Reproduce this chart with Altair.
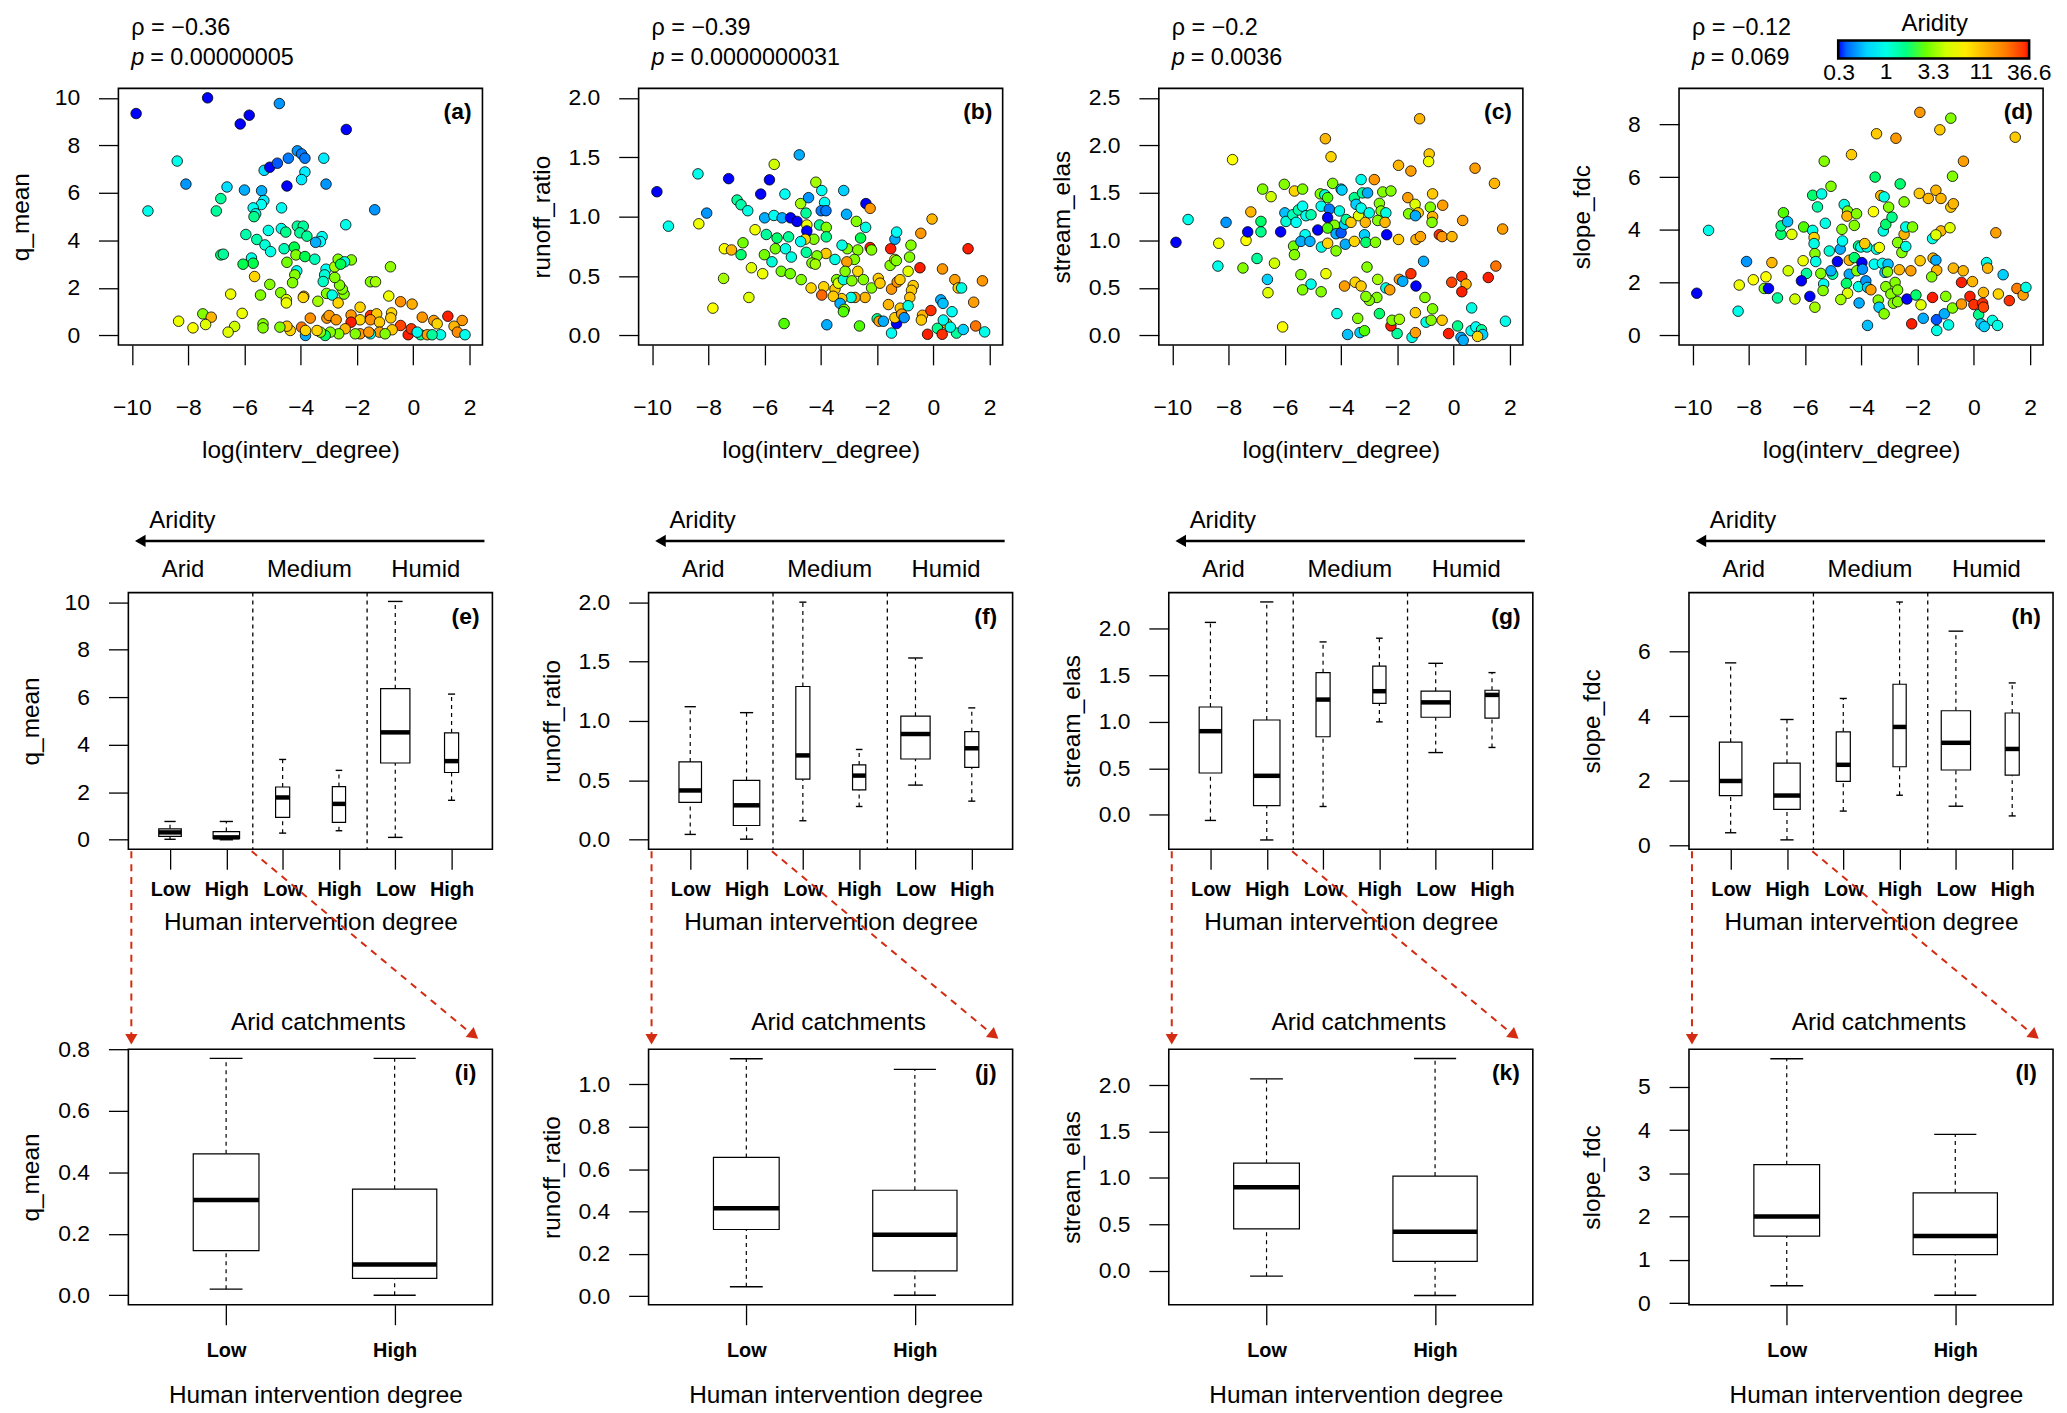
import altair as alt
import pandas as pd
import numpy as np

FONT = "Liberation Sans"
RED = "#D42C12"

# ---------------- top row scatter data (x = log(interv_degree), aridity colour) ----------------
a_x = [-9.85,-7.31,-6.15,-5.83,-4.76,-2.38,-8.39,-8.08,-9.43,-6.62,
-6.84,-7.0,-6.0,-5.30,-5.1,-4.83,-4.44,-4.12,-3.97,-3.85,
-3.18,-3.85,-3.97,-3.10,-4.49,-5.39,-5.31,-5.4,-5.69,-5.6,
-5.66,-4.68,-1.37,-2.40,-4.69,-4.53,-5.15,-5.95,-5.56,-5.27,
-5.07,-4.59,-4.12,-3.91,-4.03,-3.78,-3.24,-3.3,-3.47,-4.23,
-4.17,-3.85,-3.5,-4.49,-6.84,-6.75,-5.75,-5.69,-6.05,-4.14,
-3.10,-3.15,-3.2,-4.21,-4.29,-5.1,-5.64,-6.49,-5.43,-4.71,
-4.51,-4.51,-3.89,-3.91,-3.39,-3.08,-2.88,-2.67,-2.46,-2.52,
-2.62,-2.79,-2.79,-2.67,-2.2,-2.44,-2.58,-0.81,-1.52,-1.34,
-0.87,-0.45,-0.04,-1.89,-2.21,-1.89,-2.21,-1.52,-1.3,-1.52,
-1.2,-0.77,-0.8,0.32,0.73,0.85,1.23,1.74,1.45,1.57,
1.84,-0.18,-0.07,-0.45,-0.75,-1.2,-1.52,-1.89,-2.42,-2.65,
-2.95,-3.13,-3.3,-3.42,-3.66,-3.07,-2.99,-2.74,-3.97,-3.83,
-3.83,-4.37,-4.49,-4.74,-5.34,-5.34,-6.08,-6.35,-6.58,-7.48,
-7.18,-7.38,-7.83,-8.34,-2.06,-1.0,0.26,0.5,0.97,0.67,
0.14,-1.58]
a_y = [9.34,10.0,8.9,9.27,9.76,8.67,7.34,6.37,5.24,6.25,
5.76,5.24,6.12,6.95,7.08,7.25,7.46,7.77,7.64,7.46,
7.46,6.88,6.56,6.37,6.29,6.09,5.68,5.51,5.37,5.12,
5.0,5.37,5.29,4.66,4.5,4.35,4.42,4.25,4.04,3.81,
3.53,3.65,4.6,4.6,4.32,4.18,4.16,3.95,3.92,3.72,
3.39,3.32,3.21,3.08,3.39,3.42,3.26,3.04,3.0,2.72,
2.79,2.55,2.27,2.55,2.22,2.15,2.48,1.74,1.70,1.80,
1.51,1.37,1.65,1.6,1.44,1.77,1.7,1.37,1.74,1.95,
2.12,2.44,2.89,3.21,3.18,3.10,3.0,2.89,2.26,2.26,
1.66,1.42,1.32,1.19,0.86,0.66,0.56,0.84,0.91,0.66,
0.56,0.95,0.74,0.77,0.63,0.49,0.81,0.63,0.39,0.14,
0.03,0.03,0.28,0.42,0.24,0.14,0.07,0.07,0.28,0.07,
0.14,0.0,0.14,0.21,0.73,0.73,0.84,0.66,0.35,0.0,
0.21,0.21,0.39,0.35,0.49,0.32,0.93,0.38,0.14,0.91,
0.77,0.46,0.32,0.6,0.07,0.07,0.03,0.03,0.03,0.03,
0.14,0.14]
a_ar = [0.3,0.3,0.3,0.3,0.45,0.3,0.95,0.45,0.95,0.65,
1.5,1.5,0.5,0.65,0.3,0.35,0.4,0.45,0.4,0.4,
0.7,0.7,0.7,0.45,0.3,0.5,0.7,0.9,0.9,1.0,
1.6,0.9,0.45,0.95,0.95,1.6,1.0,1.4,1.4,1.1,
1.0,1.3,1.5,1.5,1.5,1.5,0.9,0.8,0.5,2.0,
3.0,2.0,1.3,2.8,1.8,1.5,1.0,2.0,2.0,0.9,
0.85,1.1,1.2,3.0,3.0,3.0,9,5.5,3.0,3.0,
5,5.5,12,9,3.5,3,1,9,3,3,
3,3,3.5,3,3,1.0,2,3.2,3,3.5,
5.5,17,13,9,16,9,35,33,10,17,
10,9,10,16,15,9,35,16,12,18,
0.95,35,32,30,10,15,0.9,16,12,3,
3,1.8,3,9,17,16,15,16,22,0.5,
9,9,10,3,3,3,5.5,4.5,5,3,
12,5,6,5.5,3,3,1.6,15,1.0,1.5,
0.9,16]

b_x = [-9.83,-9.42,-8.37,-8.06,-8.34,-7.28,-5.83,-6.14,-5.66,-5.28,
-4.77,-6.98,-6.84,-6.6,-6.0,-5.67,-5.38,-5.08,-4.85,-4.72,
-4.53,-4.44,-4.18,-3.97,-3.87,-3.99,-3.82,-4.5,-4.5,-4.05,
-3.81,-3.81,-4.25,-4.56,-4.72,-3.19,-3.09,-2.74,-2.41,-2.4,
-2.25,-2.59,-2.25,-2.2,-2.69,-2.81,-3.06,-3.25,-3.08,-3.5,
-3.82,-4.14,-4.52,-4.32,-4.2,-6.34,-5.94,-5.56,-5.15,-5.62,
-5.26,-5.05,-6.01,-5.74,-6.84,-6.77,-7.43,-7.18,-6.47,-6.07,
-5.41,-5.09,-4.7,-4.35,-3.9,-3.97,-3.5,-3.44,-3.38,-3.2,
-3.14,-2.9,-2.69,-2.49,-2.2,-2.43,-2.79,-2.93,-3.26,-3.56,
-3.32,-3.17,-3.2,-3.79,-5.31,-6.56,-7.84,-7.46,-2.63,-2.0,
-1.93,-1.78,-1.49,-1.31,-1.37,-1.18,-1.13,-1.04,-1.6,-1.49,
-1.29,-1.19,-1.96,-1.9,-1.54,-1.52,-1.37,-1.32,-1.37,-1.31,
-0.8,-0.85,-0.9,-0.72,-0.78,-0.84,-0.9,-0.48,-0.45,-0.05,
-0.39,-0.43,-0.09,-0.21,0.14,0.31,0.26,0.34,0.32,0.47,
0.35,0.66,0.76,0.88,1.0,0.82,1.06,1.23,1.43,1.5,
1.74,1.82,0.6]
b_y = [1.21,0.92,1.36,1.03,0.94,1.32,1.31,1.19,1.44,1.19,
1.52,1.14,1.10,1.05,0.99,1.01,0.99,0.99,0.96,1.11,
1.03,1.16,1.29,1.22,1.12,1.05,1.05,0.93,0.88,0.93,
0.91,0.83,0.81,0.81,0.79,1.22,1.02,0.96,0.91,1.11,
1.07,0.82,0.74,0.72,0.72,0.64,0.73,0.76,0.62,0.64,
0.69,0.67,0.70,0.61,0.60,0.89,0.85,0.82,0.83,0.73,
0.73,0.66,0.68,0.62,0.68,0.78,0.73,0.72,0.57,0.52,
0.54,0.52,0.47,0.40,0.41,0.34,0.39,0.47,0.44,0.47,
0.54,0.46,0.54,0.47,0.40,0.32,0.32,0.32,0.31,0.33,
0.27,0.22,0.20,0.09,0.10,0.32,0.23,0.48,0.08,0.14,
0.12,0.12,0.02,0.10,0.15,0.23,0.18,0.15,0.26,0.39,
0.45,0.47,0.48,0.44,0.59,0.73,0.64,0.63,0.81,0.87,
0.76,0.66,0.54,0.42,0.38,0.32,0.25,0.57,0.86,0.98,
0.17,0.13,0.21,0.01,0.06,0.01,0.30,0.27,0.56,0.10,
0.13,0.20,0.47,0.40,0.40,0.02,0.05,0.73,0.28,0.08,
0.46,0.03,0.07]
b_ar = [0.3,0.95,0.95,0.45,5.5,0.3,0.3,0.3,4.5,0.9,
0.5,1.5,1.4,1.0,0.5,0.9,0.5,0.3,0.3,3.5,
1.5,0.45,3.5,0.9,0.9,0.4,0.4,5.5,0.3,1.5,
3,1.6,3,9,0.9,0.6,0.5,3,1.0,0.3,
16,2.0,35,3,3,3,3,1.0,15,1.0,
10,3,1.5,3,3.5,5.5,1.5,1.8,1.5,2.8,
1.0,1.0,2.8,1.1,1.8,2.8,6,12,5,5.5,
2.8,2.8,3,9,9,24,10,3,5,1.1,
3,3,9,3,3,12,15,1.0,10,10,
0.5,3,2.5,0.5,2.5,5,6,3.5,2.5,1.6,
15,0.5,0.9,0.3,10,10,15,0.45,12,16,
17,10,10,10,3,35,5,3,0.5,0.9,
3,3,5,10,10,11,1.0,35,16,12,
12,10,33,35,1.6,33,0.5,0.55,16,12,
0.9,0.9,15,9,1.0,1.5,0.6,35,15,22,
16,0.95,0.95]

c_x = [-9.87,-9.44,-7.86,-8.09,-8.35,-8.38,-7.49,-7.38,-7.21,-7.32,
-6.99,-6.85,-6.85,-6.79,-6.49,-6.37,-6.62,-6.6,-6.08,-6.15,
-6.02,-6.0,-5.96,-5.66,-5.72,-5.6,-5.69,-5.66,-5.37,-5.52,
-5.37,-5.25,-5.07,-5.28,-5.43,-5.11,-4.83,-4.7,-4.56,-4.36,
-4.74,-4.58,-4.48,-4.71,-4.42,-4.48,-4.3,-4.0,-3.97,-4.06,
-4.24,-4.48,-4.18,-4.0,-3.88,-3.82,-3.85,-4.18,-4.48,-3.65,
-3.53,-3.47,-3.29,-3.24,-3.06,-3.38,-3.29,-3.14,-3.0,-3.17,
-3.12,-3.53,-2.82,-2.78,-2.64,-2.58,-2.7,-2.52,-2.23,-2.41,
-2.44,-2.38,-1.96,-1.52,-1.21,-0.87,-0.89,-1.63,-1.37,-1.6,
-1.26,-1.36,-0.83,-0.75,-0.75,-0.77,-0.39,-1.96,-1.34,-1.18,
-0.51,-0.41,-0.06,0.32,0.76,1.45,1.74,1.5,1.23,0.64,
1.84,0.29,-0.07,0.44,0.29,-1.07,-1.52,-1.93,-1.81,-1.34,
-1.02,-0.75,-1.36,-0.98,-0.8,-0.41,0.14,-0.18,0.26,0.34,
0.62,0.79,0.99,1.03,0.85,-1.48,-1.36,-2.01,-2.23,-2.19,
-1.93,-2.64,-2.73,-2.7,-3.0,-3.12,-3.08,-2.41,-2.27,-3.5,
-3.29,-3.88,-4.15,-3.41,-3.77,-3.33,-3.17,-4.54,-5.07,-4.71,
-5.37,-5.43]
c_y = [0.98,1.22,1.85,1.19,0.97,0.73,0.71,1.0,1.30,1.09,
0.81,1.09,1.2,1.54,1.46,0.76,0.59,0.45,0.09,1.09,
1.59,1.29,1.20,1.52,1.27,1.19,0.94,0.85,1.54,1.32,
1.36,1.26,1.27,1.06,0.99,0.99,1.11,0.93,2.07,1.88,
1.49,1.48,1.45,1.36,1.33,1.24,1.60,1.54,1.53,1.31,
1.16,1.13,1.07,1.08,1.17,1.22,0.96,0.89,0.97,1.19,
1.45,1.38,1.64,1.50,1.50,1.26,1.34,1.19,1.29,1.06,
0.98,0.99,1.64,0.98,1.39,1.31,1.21,1.51,1.52,1.29,
1.19,1.06,1.79,1.73,2.28,1.91,1.83,1.45,1.38,1.28,
1.29,1.26,1.35,1.49,1.25,1.19,1.37,1.01,1.01,1.04,
1.06,1.04,1.04,1.21,1.76,1.60,1.12,0.73,0.61,0.29,
0.15,0.62,0.56,0.54,0.46,0.78,0.65,0.59,0.57,0.52,
0.40,0.28,0.24,0.14,0.16,0.16,0.10,0.02,-0.02,-0.05,
0.05,0.09,0.06,0.01,-0.01,-0.02,0.03,0.02,0.10,0.16,
0.17,0.23,0.40,0.59,0.37,0.41,0.72,0.50,0.48,0.56,
0.52,0.52,0.23,0.18,0.01,0.03,0.05,0.65,0.54,0.46,
0.48,0.64]
c_ar = [0.3,0.95,6,0.45,5.5,0.95,3,6,12,0.3,
1.5,1.6,1.8,3,4.5,4.5,0.6,5,6,0.3,
3,0.55,1.1,9,1.3,0.9,2.8,3,3,1.4,
0.9,0.9,1.4,0.9,0.5,0.5,0.3,0.95,12,9,
3,1.1,2.5,0.9,0.4,0.3,3,0.9,0.6,1.0,
3,2.5,0.5,0.35,0.6,1.5,0.5,3,9,10,
1.6,0.6,0.95,1.5,0.5,5,0.95,12,1.0,0.6,
1.8,9,16,3,3,3,3,3,3,1.0,
12,0.3,12,15,12,10,5.5,15,5,3,
10,0.5,3,10,12,3,15,10,12,14,
33,16,12,15,15,12,15,22,35,1.0,
0.95,33,30,12,35,0.5,33,16,0.5,0.3,
3,3,10,1.0,3,10,1.6,35,0.5,0.5,
0.9,0.9,1.5,0.6,9,0.95,15,1.5,35,3,
3.5,1.8,3,3.5,3,3,3,1.0,15,9,
10,15,1.0,3,0.55,0.6,2.5,5.5,0.95,3,
3,3]

d_x = [-9.85,-9.43,-8.38,-8.34,-8.08,-7.84,-7.39,-7.45,-7.3,-7.18,
-6.98,-6.86,-6.85,-6.77,-6.62,-6.47,-6.6,-6.36,-6.05,-6.07,
-5.95,-6.13,-5.83,-5.65,-5.73,-5.73,-5.56,-5.41,-5.68,-5.68,
-5.65,-5.62,-5.44,-5.34,-5.36,-5.32,-5.08,-5.28,-5.14,-5.02,
-5.08,-4.85,-4.75,-4.67,-4.69,-4.61,-4.49,-4.51,-4.17,-4.25,
-4.35,-4.43,-4.25,-4.43,-4.53,-4.49,-4.73,-4.1,-4.02,-4.16,
-4.1,-4.08,-3.98,-3.96,-3.84,-3.78,-3.66,-3.8,-3.88,-3.78,
-3.51,-3.46,-3.57,-3.46,-3.36,-3.31,-3.19,-3.22,-3.13,-3.03,
-2.91,-3.54,-3.25,-3.05,-3.16,-3.07,-3.4,-3.37,-3.19,-3.13,
-2.95,-2.86,-2.8,-2.71,-2.71,-2.77,-2.62,-2.48,-2.48,-2.42,
-2.18,-2.71,-2.56,-2.42,-2.65,-2.24,-2.38,-2.06,-1.88,-2.21,
-1.8,-1.92,-1.94,-1.62,-1.35,-1.17,-1.21,-0.82,-0.76,-0.82,
-0.73,-1.17,-0.85,-1.47,-1.35,-1.91,-1.45,-1.35,-1.32,-1.5,
-1.47,-1.0,-1.33,-1.05,-0.9,-1.32,-0.76,-0.73,-0.37,-0.38,
-0.44,-0.44,-0.05,-0.14,0.0,0.17,0.31,0.34,0.34,0.25,
0.37,0.45,0.49,0.66,0.84,0.78,0.87,1.04,1.26,1.47,
1.53,1.75,1.85]
d_y = [1.60,3.98,0.92,1.91,2.80,2.11,2.22,1.78,1.78,2.76,
1.42,3.83,4.15,4.65,4.31,3.83,2.45,1.38,4.11,2.83,
2.35,2.07,1.48,1.07,5.31,3.98,4.87,5.36,3.71,3.48,
3.10,2.80,2.35,1.95,1.70,6.60,5.65,4.25,3.20,2.32,
2.45,2.80,3.27,3.58,4.02,4.96,4.71,4.52,4.61,4.17,
6.85,2.85,2.95,2.32,1.97,1.60,1.36,3.39,3.35,2.45,
1.85,1.23,2.76,2.51,2.07,1.82,1.73,3.35,3.48,0.38,
6.0,7.64,4.69,3.27,3.33,5.30,5.25,3.96,4.21,4.86,
4.48,2.70,2.73,2.70,2.39,2.41,1.34,1.07,0.82,1.85,
1.57,1.22,2.01,1.72,1.28,7.47,5.74,5.06,3.83,4.11,
4.11,3.52,3.14,3.37,2.49,2.45,1.38,1.53,1.16,0.44,
0.65,8.45,5.38,5.19,5.50,5.19,7.79,8.23,6.03,4.86,
4.99,3.96,4.08,3.67,3.81,2.83,2.93,2.85,2.47,2.22,
1.44,1.48,0.60,0.82,0.40,0.19,1.04,2.55,6.60,2.45,
2.01,1.19,2.04,1.48,1.17,0.79,1.22,1.07,1.63,0.44,
0.34,2.76,2.55,0.57,0.38,3.89,1.57,2.30,1.32,7.51,
1.78,1.53,1.82]
d_ar = [0.3,0.95,0.95,5.5,0.45,6,6,3,0.3,12,
1.5,1.8,1.6,2.5,0.55,5,4.5,4.5,2.5,5.5,
1.5,0.3,0.3,3.5,1.8,1.0,1.4,1.0,9,1.0,
3,1.0,3,0.9,3,3,3,1.0,1.1,1.4,
0.5,0.3,0.5,0.9,3,1.0,3,12,3,3,
10,12,1.8,0.5,1.8,5,3.5,1.5,1.0,3,
1.0,0.5,0.3,0.45,0.45,0.6,15,1.0,10,0.55,
1.8,10,6,1.0,5.5,12,1.0,1.0,1.8,3,
1.6,0.9,0.9,0.55,0.6,3,3,0.6,3,3,
3,3,3,3,3,16,1.8,3,12,1.0,
3,3,3,1.0,12,15,0.3,1.8,5,35,
0.5,16,10,12,12,12,10,3,3,10,
12,12,5,1.0,5,10,12,0.5,12,3,
35,3,0.35,0.5,1.0,1.0,3,12,15,12,
35,16,12,35,33,1.6,33,30,12,0.6,
0.6,1.0,12,1.0,1.0,15,9,0.6,33,10,
20,15,1.0]

# ---------------- correlation texts ----------------
rho_txt = ["−0.36", "−0.39", "−0.2", "−0.12"]
p_txt = ["0.00000005", "0.0000000031", "0.0036", "0.069"]
metric_names = ["q_mean", "runoff_ratio", "stream_elas", "slope_fdc"]

# ---------------- aridity colour bar ----------------
ar_ticks = [0.3, 1, 3.3, 11, 36.6]
ar_colors = ["#0000FF", "#00FFFF", "#00FF00", "#FFFF00", "#FFA500", "#FF0000"]
ar_stop_frac = [0.0, 0.2, 0.42, 0.63, 0.8, 1.0]

# ---------------- middle row boxplot statistics (Arid L/H, Medium L/H, Humid L/H) ----------------
grp_pos = [1, 2, 3, 4, 5, 6]
grp_width = [0.40, 0.47, 0.25, 0.235, 0.52, 0.25]
grp_seps = [2.47, 4.50]
box_stats = {
    "q_mean": dict(lo=[0.02, 0.0, 0.28, 0.38, 0.10, 1.66], q1=[0.145, 0.055, 0.94, 0.73, 3.23, 2.83],
                   med=[0.31, 0.10, 1.78, 1.51, 4.52, 3.31], q3=[0.46, 0.345, 2.22, 2.24, 6.36, 4.50],
                   hi=[0.77, 0.77, 3.38, 2.92, 10.03, 6.13]),
    "runoff_ratio": dict(lo=[0.045, 0.005, 0.16, 0.28, 0.46, 0.325], q1=[0.315, 0.12, 0.51, 0.42, 0.68, 0.61],
                         med=[0.415, 0.29, 0.71, 0.54, 0.89, 0.77], q3=[0.655, 0.50, 1.29, 0.63, 1.04, 0.91],
                         hi=[1.12, 1.07, 2.0, 0.76, 1.53, 1.11]),
    "stream_elas": dict(lo=[-0.06, -0.27, 0.09, 1.0, 0.67, 0.725], q1=[0.45, 0.10, 0.84, 1.20, 1.05, 1.04],
                        med=[0.90, 0.42, 1.24, 1.33, 1.21, 1.29], q3=[1.16, 1.02, 1.53, 1.60, 1.33, 1.34],
                        hi=[2.07, 2.29, 1.86, 1.90, 1.63, 1.53]),
    "slope_fdc": dict(lo=[0.40, 0.18, 1.07, 1.56, 1.22, 0.92], q1=[1.55, 1.12, 1.99, 2.44, 2.34, 2.18],
                      med=[2.0, 1.55, 2.5, 3.67, 3.18, 2.99], q3=[3.2, 2.55, 3.52, 4.99, 4.17, 4.10],
                      hi=[5.65, 3.9, 4.55, 7.53, 6.63, 5.03]),
}
arid_pos = [1, 2]
arid_width = [0.39, 0.50]

# ---------------- layout constants ----------------
W, H = 366, 258
HB = 257
TS = 23      # tick label size
TT = 24.5    # axis title size
ONE = pd.DataFrame({"k": [0]})

lo_ln, hi_ln = np.log(ar_ticks[0]), np.log(ar_ticks[-1])
col_domain = [float(lo_ln + f * (hi_ln - lo_ln)) for f in ar_stop_frac]
tick_ln = [float(np.log(v)) for v in ar_ticks]
lab_expr = ""
for i, v in enumerate(ar_ticks[:-1]):
    mid = (tick_ln[i] + tick_ln[i + 1]) / 2
    lab_expr += f"datum.value < {mid:.3f} ? '{v:g}' : "
lab_expr += f"'{ar_ticks[-1]:g}'"

LEG_X, LEG_LEN = 160, 192


def y_axis(vals, fmt, title, h):
    return alt.Axis(values=vals, format=fmt, title=title, titleX=-97, titleY=h / 2, titleAngle=270,
                    titleAlign="center", titleBaseline="middle", titleFontSize=TT,
                    labelPadding=19, labelBaseline="middle", labelFontSize=TS, tickSize=20)


def txt(text, x, y, align="left", size=23.5, weight="normal", style="normal", color="black"):
    return alt.Chart(ONE).mark_text(text=text, align=align, baseline="middle", fontSize=size,
                                    fontWeight=weight, fontStyle=style, color=color, font=FONT).encode(
        x=alt.value(x), y=alt.value(y))


def scatter_panel(x, y, ar, ydom, yvals, yfmt, idx, tag, legend):
    df = pd.DataFrame({"x": x, "y": y, "ar": ar})
    if legend:
        leg = alt.Legend(orient="none", legendX=LEG_X, legendY=-77, direction="horizontal",
                         gradientLength=LEG_LEN, gradientThickness=18, gradientStrokeColor="black",
                         gradientStrokeWidth=2.5, title="Aridity", titleAnchor="middle",
                         titleFontSize=24, titleFontWeight="normal", titleFont=FONT, titleColor="black",
                         titlePadding=5, values=tick_ln[1:-1], labelExpr=lab_expr, labelFontSize=23,
                         labelFont=FONT, labelColor="black", labelOverlap=False, labelAlign="center",
                         labelOffset=3)
    else:
        leg = None
    color = alt.Color("la:Q", scale=alt.Scale(domain=col_domain, range=ar_colors), legend=leg)
    pts = alt.Chart(df).transform_calculate(la="log(datum.ar)").mark_circle(
        size=112, opacity=1, stroke="black", strokeWidth=0.8).encode(
        x=alt.X("x:Q", scale=alt.Scale(domain=[-10.48, 2.46], nice=False, zero=False),
                axis=alt.Axis(values=list(range(-10, 3, 2)), format="d", title="log(interv_degree)",
                              titleX=W / 2, titleY=106, titleAlign="center", titleBaseline="middle",
                              titleFontSize=TT, labelPadding=43, labelBaseline="middle",
                              labelFontSize=TS, tickSize=20)),
        y=alt.Y("y:Q", scale=alt.Scale(domain=ydom, nice=False, zero=False),
                axis=y_axis(yvals, yfmt, metric_names[idx], H)),
        color=color)
    layers = [pts,
              txt("ρ = " + rho_txt[idx], 13, -61),
              txt("p", 13, -30, style="italic"),
              txt("= " + p_txt[idx], 32, -30),
              txt(tag, W - 25, 24, align="center", size=23, weight="bold")]
    if legend:
        layers += [txt(f"{ar_ticks[0]:g}", LEG_X + 1, -15, align="center", size=23),
                   txt(f"{ar_ticks[-1]:g}", LEG_X + LEG_LEN, -15, align="center", size=23)]
    return alt.layer(*layers).properties(width=W, height=H)


def box_layers(st, pos, bw, xdom, xaxis, ydom, yaxis_):
    df = pd.DataFrame(dict(pos=pos, bw=bw, **st))
    base = alt.Chart(df).transform_calculate(
        x1="datum.pos - datum.bw/2", x2="datum.pos + datum.bw/2",
        c1="datum.pos - datum.bw/4", c2="datum.pos + datum.bw/4")
    xs = alt.Scale(domain=xdom, nice=False, zero=False)
    ys = alt.Scale(domain=ydom, nice=False, zero=False)

    def X(f):
        return alt.X(f, type="quantitative", scale=xs, axis=xaxis)

    def Y(f):
        return alt.Y(f, type="quantitative", scale=ys, axis=yaxis_)

    wl = base.mark_rule(strokeDash=[4, 4], strokeWidth=1.2, color="black").encode(x=X("pos"), y=Y("lo"), y2="q1")
    wh = base.mark_rule(strokeDash=[4, 4], strokeWidth=1.2, color="black").encode(x=X("pos"), y=Y("q3"), y2="hi")
    cl = base.mark_rule(strokeWidth=1.4, color="black").encode(x=X("c1"), x2="c2", y=Y("lo"))
    ch = base.mark_rule(strokeWidth=1.4, color="black").encode(x=X("c1"), x2="c2", y=Y("hi"))
    bx = base.mark_rect(fill="white", stroke="black", strokeWidth=1.2).encode(x=X("x1"), x2="x2", y=Y("q1"), y2="q3")
    md = base.mark_rule(strokeWidth=4.5, color="black").encode(x=X("x1"), x2="x2", y=Y("med"))
    return [wl, wh, cl, ch, bx, md], X


def mid_panel(name, ydom, yvals, yfmt, tag):
    xaxis = alt.Axis(values=grp_pos, labelExpr="datum.value % 2 == 1 ? 'Low' : 'High'",
                     labelFontWeight="bold", labelFontSize=20, labelPadding=20, labelBaseline="middle",
                     title="Human intervention degree", titleX=W / 2, titleY=74, titleAlign="center",
                     titleBaseline="middle", titleFontSize=TT, tickSize=20)
    layers, X = box_layers(box_stats[name], grp_pos, grp_width, [0.26, 6.725], xaxis, ydom,
                           y_axis(yvals, yfmt, name, H))
    seps = alt.Chart(pd.DataFrame({"s": grp_seps})).mark_rule(
        strokeDash=[4, 4], strokeWidth=1.3, color="black").encode(x=X("s"))
    one = alt.Chart(ONE)
    arrow = one.mark_rule(strokeWidth=2.6, color="black").encode(
        x=alt.value(14), x2=alt.value(358), y=alt.value(-52))
    head = one.mark_point(shape="triangle-left", filled=True, size=150, color="black", opacity=1).encode(
        x=alt.value(12), y=alt.value(-52))
    ann = [txt("Aridity", 21, -72, size=24),
           txt("Arid", 55, -23, align="center", size=24),
           txt("Medium", 182, -23, align="center", size=24),
           txt("Humid", 299, -23, align="center", size=24),
           txt(tag, W - 27, 25, align="center", size=23, weight="bold")]
    return alt.layer(seps, *layers, arrow, head, *ann).properties(width=W, height=H)


def bot_panel(name, ydom, yvals, yfmt, tag):
    xaxis = alt.Axis(values=arid_pos, labelExpr="datum.value == 1 ? 'Low' : 'High'",
                     labelFontWeight="bold", labelFontSize=20, labelPadding=26, labelBaseline="middle",
                     title="Human intervention degree", titleX=W / 2 + 5, titleY=91, titleAlign="center",
                     titleBaseline="middle", titleFontSize=TT, tickSize=20)
    st = {k: v[:2] for k, v in box_stats[name].items()}
    layers, X = box_layers(st, arid_pos, arid_width, [0.42, 2.58], xaxis, ydom,
                           y_axis(yvals, yfmt, name, HB))
    one = alt.Chart(ONE)
    v_line = one.mark_rule(strokeWidth=2, color=RED, strokeDash=[7, 6]).encode(
        x=alt.value(3), y=alt.value(-199), y2=alt.value(-14))
    v_head = one.mark_point(shape="triangle-down", filled=True, size=150, color=RED, opacity=1).encode(
        x=alt.value(3), y=alt.value(-10))
    d_line = one.mark_rule(strokeWidth=2, color=RED, strokeDash=[7, 6]).encode(
        x=alt.value(124), y=alt.value(-199), x2=alt.value(342), y2=alt.value(-18))
    d_head = one.mark_point(shape="triangle", angle=129, filled=True, size=160, color=RED, opacity=1).encode(
        x=alt.value(346), y=alt.value(-15))
    ann = [txt("Arid catchments", W / 2 + 8, -26, align="center", size=24.5),
           txt(tag, W - 27, 24, align="center", size=23, weight="bold")]
    return alt.layer(*layers, v_line, v_head, d_line, d_head, *ann).properties(width=W, height=HB)


fmt1 = ".1f"
pa = scatter_panel(a_x, a_y, a_ar, [-0.4, 10.4], [0, 2, 4, 6, 8, 10], "d", 0, "(a)", False)
pb = scatter_panel(b_x, b_y, b_ar, [-0.08, 2.08], [0, 0.5, 1, 1.5, 2], fmt1, 1, "(b)", False)
pc = scatter_panel(c_x, c_y, c_ar, [-0.1, 2.6], [0, 0.5, 1, 1.5, 2, 2.5], fmt1, 2, "(c)", False)
pd_ = scatter_panel(d_x, d_y, d_ar, [-0.36, 9.36], [0, 2, 4, 6, 8], "d", 3, "(d)", True)

pe = mid_panel("q_mean", [-0.4, 10.4], [0, 2, 4, 6, 8, 10], "d", "(e)")
pf = mid_panel("runoff_ratio", [-0.08, 2.08], [0, 0.5, 1, 1.5, 2], fmt1, "(f)")
pg = mid_panel("stream_elas", [-0.37, 2.39], [0, 0.5, 1, 1.5, 2], fmt1, "(g)")
ph = mid_panel("slope_fdc", [-0.11, 7.82], [0, 2, 4, 6], "d", "(h)")

pi = bot_panel("q_mean", [-0.031, 0.80], [0, 0.2, 0.4, 0.6, 0.8], fmt1, "(i)")
pj = bot_panel("runoff_ratio", [-0.04, 1.165], [0, 0.2, 0.4, 0.6, 0.8, 1.0], fmt1, "(j)")
pk = bot_panel("stream_elas", [-0.37, 2.39], [0, 0.5, 1, 1.5, 2], fmt1, "(k)")
pl = bot_panel("slope_fdc", [-0.04, 5.87], [0, 1, 2, 3, 4, 5], "d", "(l)")

# flush bounds: nested concat groups count as zero height, so spacing = gap + row height
top_row = alt.hconcat(pa, pb, pc, pd_, spacing=157, bounds="flush").resolve_scale(color="independent")
mid_row = alt.hconcat(pe, pf, pg, ph, spacing=157, bounds="flush")
bot_row = alt.hconcat(pi, pj, pk, pl, spacing=157, bounds="flush")
lower = alt.vconcat(mid_row, bot_row, spacing=201 + H, bounds="flush")
spacer = alt.Chart(ONE).mark_point(opacity=0).encode(x=alt.value(0), y=alt.value(0)).properties(
    width=1, height=1, view=alt.ViewBackground(stroke="transparent"))
lower2 = alt.hconcat(spacer, lower, spacing=9, bounds="flush")

chart = alt.vconcat(top_row, lower2, spacing=249 + H, bounds="flush").resolve_scale(
    color="independent"
).properties(
    padding={"left": 0, "top": -1, "right": 5, "bottom": 5}
).configure(font=FONT).configure_axis(
    labelFont=FONT, titleFont=FONT, labelColor="black", titleColor="black", tickColor="black",
    tickWidth=1.3, domain=False, grid=False, titleFontWeight="normal", labelOverlap=False,
    labelFlush=False, labelLimit=0
).configure_view(stroke="black", strokeWidth=1.6)

chart.save("out.html", embed_options={"renderer": "svg", "actions": False})
